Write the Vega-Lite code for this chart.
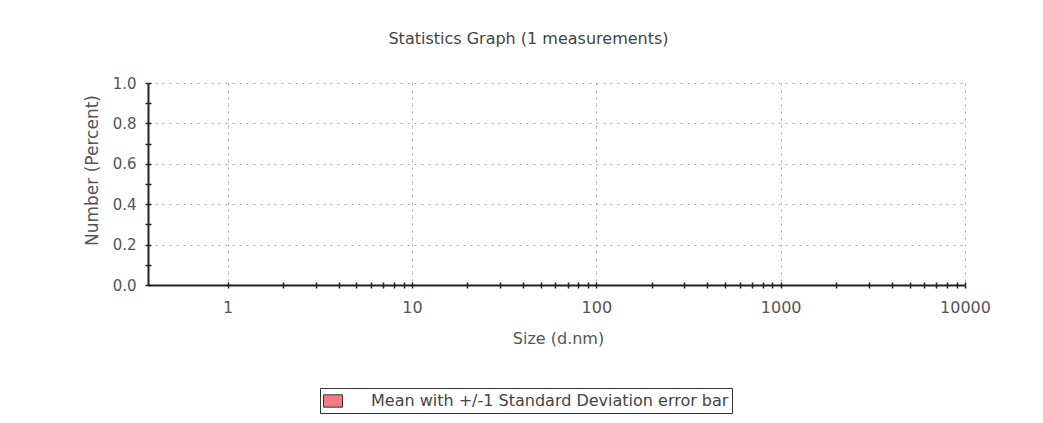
{
  "$schema": "https://vega.github.io/schema/vega-lite/v6.json",
  "width": 817,
  "height": 202,
  "autosize": {"type": "none"},
  "padding": {"left": 148, "top": 83, "right": 78, "bottom": 138},
  "background": "white",
  "config": {
    "font": "DejaVu Sans",
    "view": {"stroke": null},
    "axis": {
      "labelFont": "DejaVu Sans",
      "titleFont": "DejaVu Sans",
      "labelColor": "#555",
      "titleColor": "#555",
      "labelFontSize": 16,
      "titleFontSize": 16,
      "titleFontWeight": "normal",
      "domainColor": "#222",
      "tickColor": "#222",
      "gridColor": "#a8a8a8",
      "gridDash": [2, 5],
      "gridWidth": 1
    }
  },
  "title": {
    "text": "Statistics Graph (1 measurements)",
    "font": "DejaVu Sans",
    "fontSize": 16,
    "fontWeight": "normal",
    "color": "#444",
    "anchor": "middle",
    "dx": -28,
    "offset": 29
  },
  "data": {
    "values": [
      {"size": 0.4, "number": 0, "series": "Mean with +/-1 Standard Deviation error bar"},
      {"size": 1, "number": 0, "series": "Mean with +/-1 Standard Deviation error bar"},
      {"size": 3, "number": 0, "series": "Mean with +/-1 Standard Deviation error bar"},
      {"size": 10, "number": 0, "series": "Mean with +/-1 Standard Deviation error bar"},
      {"size": 30, "number": 0, "series": "Mean with +/-1 Standard Deviation error bar"},
      {"size": 100, "number": 0, "series": "Mean with +/-1 Standard Deviation error bar"},
      {"size": 300, "number": 0, "series": "Mean with +/-1 Standard Deviation error bar"},
      {"size": 1000, "number": 0, "series": "Mean with +/-1 Standard Deviation error bar"},
      {"size": 3000, "number": 0, "series": "Mean with +/-1 Standard Deviation error bar"},
      {"size": 10000, "number": 0, "series": "Mean with +/-1 Standard Deviation error bar"}
    ]
  },
  "resolve": {"axis": {"x": "independent", "y": "independent"}},
  "layer": [
    {
      "mark": {"type": "bar", "size": 4},
      "encoding": {
        "x": {
          "field": "size",
          "type": "quantitative",
          "scale": {"type": "log", "domain": [0.37, 10000], "nice": false, "padding": 0},
          "axis": {
            "orient": "bottom",
            "title": "Size (d.nm)",
            "values": [1,2,3,4,5,6,7,8,9,10,20,30,40,50,60,70,80,90,100,200,300,400,500,600,700,800,900,1000,2000,3000,4000,5000,6000,7000,8000,9000,10000],
            "labelExpr": "indexof([1,10,100,1000,10000], datum.value) >= 0 ? '' + datum.value : ''",
            "labelOverlap": false,
            "labelFlush": false,
            "tickSize": 3,
            "tickWidth": 1.5,
            "labelPadding": 11,
            "domainWidth": 2,
            "gridOpacity": {"condition": {"test": "indexof([1,10,100,1000,10000], datum.value) < 0", "value": 0}, "value": 1},
            "titleX": 410,
            "titleY": 53,
            "titleAlign": "center",
            "titleBaseline": "middle"
          }
        },
        "y": {
          "field": "number",
          "type": "quantitative",
          "scale": {"domain": [0, 1], "nice": false, "padding": 0},
          "axis": {
            "orient": "left",
            "title": "Number (Percent)",
            "values": [0,0.1,0.2,0.3,0.4,0.5,0.6,0.7,0.8,0.9,1.0],
            "labelExpr": "round(datum.value*10) % 2 == 0 ? format(datum.value, '.1f') : ''",
            "labelOverlap": false,
            "labelFlush": false,
            "labelFontSize": 15,
            "tickSize": 3,
            "tickWidth": 1.5,
            "labelPadding": 9,
            "domainWidth": 2,
            "gridOpacity": {"condition": {"test": "round(datum.value*10) % 2 != 0 || datum.value == 0", "value": 0}, "value": 1},
            "titleX": -56,
            "titleY": 87,
            "titleFontSize": 17,
            "titleAngle": -90,
            "titleAlign": "center",
            "titleBaseline": "middle"
          }
        },
        "fill": {
          "field": "series",
          "type": "nominal",
          "scale": {"range": ["#f27b83"]},
          "legend": {
            "title": null,
            "orient": "none",
            "legendX": 172,
            "legendY": 305,
            "direction": "horizontal",
            "strokeColor": "#333",
            "padding": 3,
            "symbolType": "M-1,-0.65L1,-0.65L1,0.65L-1,0.65Z",
            "symbolSize": 361,
            "symbolFillColor": "#f27b83",
            "symbolStrokeColor": "#333",
            "symbolStrokeWidth": 1,
            "labelFont": "DejaVu Sans",
            "labelFontSize": 16,
            "labelColor": "#444",
            "labelOffset": 28,
            "labelLimit": 500
          }
        }
      }
    },
    {
      "mark": {"type": "point", "opacity": 0},
      "encoding": {
        "x": {
          "field": "size",
          "type": "quantitative",
          "scale": {"type": "log", "domain": [0.37, 10000], "nice": false, "padding": 0},
          "axis": {
            "orient": "bottom",
            "title": null,
            "labels": false,
            "grid": false,
            "domain": false,
            "values": [1,2,3,4,5,6,7,8,9,10,20,30,40,50,60,70,80,90,100,200,300,400,500,600,700,800,900,1000,2000,3000,4000,5000,6000,7000,8000,9000,10000],
            "tickSize": -3,
            "tickWidth": 1.5
          }
        },
        "y": {
          "field": "number",
          "type": "quantitative",
          "scale": {"domain": [0, 1], "nice": false, "padding": 0},
          "axis": {
            "orient": "left",
            "title": null,
            "labels": false,
            "grid": false,
            "domain": false,
            "values": [0,0.1,0.2,0.3,0.4,0.5,0.6,0.7,0.8,0.9,1.0],
            "tickSize": -3,
            "tickWidth": 1.5
          }
        }
      }
    }
  ]
}
